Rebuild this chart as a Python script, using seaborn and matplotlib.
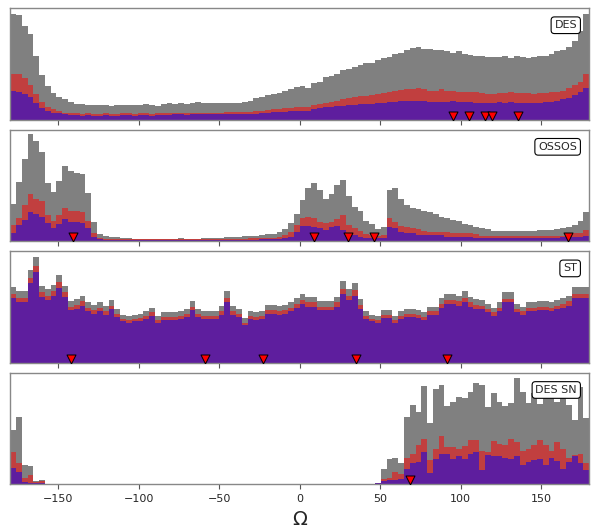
import numpy as np
import pandas as pd
import matplotlib
matplotlib.use("Agg")
import matplotlib.pyplot as plt
import seaborn as sns

# 100 bins for Omega over -180..180
NBINS = 100
edges = np.linspace(-180, 180, NBINS + 1)
centers = (edges[:-1] + edges[1:]) / 2

# heights (percent of panel height)
des_gray = [95, 94, 84, 77, 57, 40, 30, 24, 20, 18, 16, 14, 14, 13, 13, 13, 13, 12, 13, 13,
            13, 13, 13, 14, 13, 12, 14, 15, 14, 15, 14, 15, 16, 15, 15, 15, 15, 15, 15, 15,
            16, 17, 19, 20, 22, 23, 24, 26, 27, 29, 30, 28, 33, 34, 38, 39, 41, 44, 45, 47,
            49, 51, 51, 53, 55, 56, 59, 60, 62, 64, 65, 63, 63, 62, 62, 61, 60, 61, 59, 58,
            57, 57, 56, 56, 56, 57, 55, 57, 56, 55, 56, 57, 57, 59, 61, 62, 65, 70, 79, 95]
des_red = [41, 41, 37, 31, 23, 16, 11, 9, 7.5, 6, 5.5, 5.5, 5, 5.5, 5, 5, 5.5, 5, 5, 5.5,
           5.5, 5, 5.5, 5.5, 5, 5.5, 5.5, 5.5, 6, 6, 5.5, 6, 6, 6, 6, 6, 6, 6.5, 6.5, 6.5,
           7, 7, 7.5, 8, 8.5, 9, 9.5, 10, 10.5, 11, 11, 11, 13, 14, 15, 16, 17, 18, 19, 20,
           21, 21.5, 22, 23, 24, 25, 26, 26.5, 27, 27, 28, 27, 26, 26, 27, 26, 26, 25, 25, 25,
           25, 24, 23, 23, 24, 24, 25, 24, 24, 24, 23, 24, 24, 25, 25, 26, 28, 31, 34, 41]
des_purple = [26, 25, 23, 20, 15, 10, 7.5, 6, 5.4, 4.5, 4, 4, 3.5, 4, 3.5, 3.5, 4, 3.5, 3.5, 4,
              4, 3.5, 4, 4, 3.5, 4, 4, 4, 4.5, 4.5, 4, 4.5, 4.5, 4.5, 4.5, 4.5, 4.5, 4.5, 4.5, 4.5,
              5, 5, 5, 5.5, 6, 6.5, 7, 7, 7.5, 7.5, 7.5, 8, 9.5, 10, 11, 11, 12, 12.5, 13, 13,
              13.5, 13.5, 14, 14.5, 15, 16, 16, 16.5, 17, 17, 17, 16.5, 16, 16, 16, 16, 16.5, 16, 16, 15.5,
              15, 15, 15, 15, 15.5, 15, 15.5, 15, 15, 15, 15, 15, 16, 16, 17, 18, 19, 22, 25, 28]

ossos_gray = [33, 53, 74, 96, 90, 80, 52, 44, 54, 67, 63, 61, 60, 43, 17, 6, 5, 4, 3.3, 2.7,
              2.5, 2, 2, 2, 2, 2, 2, 2, 2, 2.5, 2, 2, 2, 2.5, 2.5, 3, 3, 3.5, 4, 4,
              4.5, 5, 5, 5.5, 6, 6.5, 8.5, 11, 16, 24, 37, 48, 52, 46, 38, 42, 50, 55, 40, 31,
              27, 18, 15, 11, 13, 46, 48, 38, 32, 30, 29, 27, 26, 24, 22, 21, 19, 18, 15, 14.5,
              13, 11.5, 10.5, 9.5, 9, 9, 9, 9, 9, 9, 9.5, 10, 10, 10, 10.5, 11.5, 13, 14.5, 18, 26]
ossos_red = [14, 21, 32, 42, 38, 36, 23, 18, 23, 30, 27, 27, 26, 18, 7, 3, 2, 2, 1.5, 1.5,
             1.5, 1.5, 1.5, 1.5, 1.5, 1.5, 1.5, 1.5, 1.5, 1.5, 1.5, 1.5, 1.5, 1.5, 1.5, 1.5, 1.5, 2, 2, 2,
             2, 2.5, 2.5, 2.5, 3, 3, 4, 5.5, 8.5, 14.5, 21, 22, 21, 17.5, 16, 17.5, 20, 23, 14.5, 11.5,
             9, 6, 5.5, 4.5, 5.5, 20.5, 17.5, 13.5, 13, 11.5, 10.5, 9, 8.5, 8.5, 8.5, 8.5, 7.5, 7.5, 7.5, 7.5,
             6, 5, 4.5, 4.5, 4.5, 4.5, 4.5, 4.5, 4.5, 4.5, 5, 5, 5, 5, 5, 5, 6, 7, 7.5, 10]
ossos_purple = [7.5, 14.5, 19, 26, 24.5, 22, 16.5, 11.5, 15.5, 19.5, 17.5, 17, 16.5, 11.5, 4, 1.5, 1, 1, 1, 1,
                1, 1, 1, 1, 1, 1, 1, 1, 1, 1, 1, 1, 1, 1, 1, 1, 1, 1, 1, 1,
                1.2, 1.2, 1.2, 1.5, 1.5, 1.5, 2, 2.4, 4, 8.5, 13.5, 13.5, 13, 11.5, 10, 12.5, 13.5, 10, 7.5, 5.5,
                4, 2.4, 2.4, 2.4, 2.4, 12.5, 11.5, 8.5, 7.5, 7, 5.5, 5.5, 5.5, 5.5, 5.5, 4, 4, 4, 4, 4,
                2.4, 2.4, 2.4, 2.4, 2.4, 2.4, 2.4, 2.4, 2.4, 2.4, 2.4, 2.4, 2.4, 2.4, 2.4, 3.3, 3.3, 3.3, 4, 5]

st_gray = [68, 64, 64, 83, 95, 69, 66, 70, 79, 69, 55, 57, 60, 54, 52, 54, 51, 56, 48, 43,
           42, 43, 44, 46, 49, 42, 45, 45, 45, 46, 48, 55, 48, 46, 46, 46, 51, 64, 51, 48,
           40, 46, 45, 46, 52, 52, 51, 52, 54, 58, 62, 59, 59, 55, 55, 55, 59, 73, 66, 71,
           57, 46, 43, 42, 47, 47, 42, 46, 48, 48, 47, 45, 50, 50, 58, 62, 62, 60, 64, 59,
           57, 56, 53, 49, 54, 63, 63, 53, 50, 54, 54, 55, 55, 54, 56, 58, 60, 68, 68, 68]
st_red = [62, 58, 58, 76, 87, 63, 60, 64, 72, 63, 50, 52, 55, 49, 47, 49, 46, 51, 44, 39,
          38, 39, 40, 42, 45, 38, 41, 41, 41, 42, 44, 50, 44, 42, 42, 42, 46, 58, 46, 44,
          36, 42, 41, 42, 47, 47, 46, 47, 49, 53, 56, 54, 54, 50, 50, 50, 54, 66, 60, 65,
          52, 42, 39, 38, 43, 43, 38, 42, 44, 44, 43, 41, 46, 46, 53, 56, 56, 55, 58, 54,
          52, 51, 48, 45, 49, 57, 57, 48, 46, 49, 49, 50, 50, 49, 51, 53, 55, 62, 62, 62]
st_purple = [58, 54, 54, 71, 81, 59, 56, 60, 67, 59, 47, 48, 51, 46, 44, 46, 43, 48, 41, 37,
             36, 37, 37, 39, 42, 36, 38, 38, 38, 39, 41, 47, 41, 39, 39, 39, 43, 54, 43, 41,
             34, 39, 38, 39, 44, 44, 43, 44, 46, 49, 53, 50, 50, 47, 47, 47, 50, 62, 56, 60,
             48, 39, 37, 36, 40, 40, 36, 39, 41, 41, 40, 38, 43, 43, 49, 53, 53, 51, 54, 50,
             48, 48, 45, 42, 46, 54, 54, 45, 43, 46, 46, 47, 47, 46, 48, 49, 51, 58, 58, 58]

dessn_gray = [49, 60, 17, 16, 3, 4] + [0] * 57 + [1] + \
             [14, 23, 24, 19, 60, 71, 65, 88, 55, 85, 89, 70, 74, 78, 77, 83, 91, 89, 69, 82,
              74, 70, 73, 95, 83, 73, 82, 72, 78, 78, 74, 91, 71, 58, 87, 59]
dessn_red = [29, 19, 6, 8, 2, 3] + [0] * 57 + [1] + \
            [5, 6, 11, 9, 24, 27, 35, 41, 22, 32, 43, 33, 33, 32, 34, 40, 40, 30, 29, 39,
             36, 35, 41, 38, 30, 32, 35, 40, 35, 30, 38, 32, 24, 26, 27, 19]
dessn_purple = [15, 11, 2.4, 1, 1, 1] + [0] * 57 + [1] + \
               [3, 4, 4, 5, 14, 19, 20, 29, 10, 23, 27, 27, 23, 25, 23, 27, 29, 13, 26, 25,
                25, 24, 23, 25, 17, 20, 22, 23, 17, 24, 21, 14, 20, 25, 19, 13]

# red triangle positions
des_marks = [95, 105, 115, 119.5, 136]
ossos_marks = [-141, 8.7, 30, 46.5, 167]
st_marks = [-142, -58.7, -22.6, 35.3, 91.3]
dessn_marks = [68.3]

names = ["DES", "OSSOS", "ST", "DES SN"]
panels = [(des_gray, des_red, des_purple, des_marks),
          (ossos_gray, ossos_red, ossos_purple, ossos_marks),
          (st_gray, st_red, st_purple, st_marks),
          (dessn_gray, dessn_red, dessn_purple, dessn_marks)]

GRAY = "#808080"
RED = "#c13f3f"
PURPLE = "#5e1e9e"

sns.set_style("ticks")
plt.rcParams["font.family"] = ["DejaVu Sans"]

fig, axes = plt.subplots(4, 1, figsize=(5.97, 5.31), dpi=100, sharex=True)
fig.subplots_adjust(left=0.017, right=0.987, top=0.985, bottom=0.088, hspace=0.09)

for ax, name, (g, r, p, marks) in zip(axes, names, panels):
    for vals, col in ((g, GRAY), (r, RED), (p, PURPLE)):
        df = pd.DataFrame({"omega": centers, "n": vals})
        sns.histplot(data=df, x="omega", weights="n", bins=NBINS, binrange=(-180, 180),
                     element="step", fill=True, color=col, alpha=1, linewidth=0, ax=ax)
    mk = pd.DataFrame({"omega": marks, "y": [3.5] * len(marks)})
    sns.scatterplot(data=mk, x="omega", y="y", marker="v", s=42, color="red",
                    edgecolor="black", linewidth=0.7, zorder=5, ax=ax, legend=False)
    ax.text(0.979, 0.89, name, transform=ax.transAxes, ha="right", va="top", fontsize=8,
            bbox=dict(boxstyle="round,pad=0.3", fc="white", ec="black", lw=0.8), zorder=6)
    ax.set_xlim(-180, 180)
    ax.set_ylim(0, 100)
    ax.set_yticks([])
    ax.set_ylabel("")
    ax.set_xlabel("")
    for s in ax.spines.values():
        s.set_color("#888888")
        s.set_linewidth(1.0)
    ax.tick_params(axis="x", length=3.5, width=0.8, color="#555555", labelsize=8)

axes[-1].set_xticks([-150, -100, -50, 0, 50, 100, 150])
axes[-1].set_xlabel("Ω", fontsize=14)

fig.savefig("out.png", dpi=100)
